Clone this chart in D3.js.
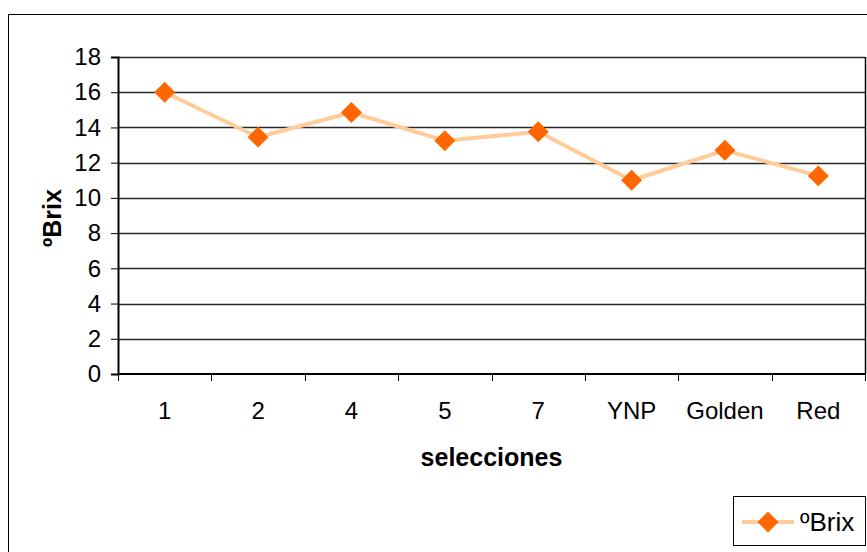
<!DOCTYPE html>
<html>
<head>
<meta charset="utf-8">
<script src="https://cdn.jsdelivr.net/npm/d3@7"></script>
<style>
  html, body { margin: 0; padding: 0; background: #fff; }
  svg { display: block; font-family: "Liberation Sans", Arial, sans-serif; }
</style>
</head>
<body>
<svg id="chart" width="867" height="552"></svg>
<script>
// Sugar content (ºBrix) per selection
const categories = ["1", "2", "4", "5", "7", "YNP", "Golden", "Red"];
const brix = [16.0, 13.45, 14.85, 13.25, 13.75, 11.0, 12.7, 11.25];
const yTicks = [0, 2, 4, 6, 8, 10, 12, 14, 16, 18];
const seriesName = "ºBrix";
const xTitle = "selecciones";
const yTitle = "ºBrix";

const svg = d3.select("#chart");
const plot = { left: 118, top: 57, right: 865, bottom: 374 };

// Outer chart frame
svg.append("rect")
  .attr("x", 8.5).attr("y", 14.5)
  .attr("width", 870).attr("height", 560)
  .attr("fill", "#fff").attr("stroke", "#000").attr("stroke-width", 1);

const x = d3.scaleBand().domain(categories).range([plot.left, plot.right]).padding(0);
const y = d3.scaleLinear().domain([0, 18]).range([plot.bottom, plot.top]);

// Horizontal gridlines
svg.append("g").selectAll("line").data(yTicks.filter(d => d > 0)).join("line")
  .attr("x1", plot.left).attr("x2", plot.right)
  .attr("y1", d => Math.round(y(d)) + 0.5).attr("y2", d => Math.round(y(d)) + 0.5)
  .attr("stroke", "#2a2a2a").attr("stroke-width", 1.4);

// Plot area border (right side)
svg.append("line")
  .attr("x1", plot.right + 0.5).attr("x2", plot.right + 0.5)
  .attr("y1", plot.top).attr("y2", plot.bottom)
  .attr("stroke", "#000").attr("stroke-width", 1.5);

// Y axis
const yAxis = svg.append("g")
  .attr("transform", `translate(${plot.left},0)`)
  .call(d3.axisLeft(y).tickValues(yTicks).tickSize(7).tickPadding(10));
yAxis.select(".domain").attr("stroke", "#000").attr("stroke-width", 2);
yAxis.selectAll(".tick line").attr("stroke", "#000").attr("stroke-width", 1);
yAxis.selectAll("text").attr("font-size", 24).attr("fill", "#000")
  .attr("font-family", "Liberation Sans, Arial, sans-serif");

// X axis with ticks at category boundaries
const xAxisG = svg.append("g").attr("transform", `translate(0,${plot.bottom})`);
xAxisG.append("line")
  .attr("x1", plot.left).attr("x2", plot.right)
  .attr("y1", 0).attr("y2", 0)
  .attr("stroke", "#000").attr("stroke-width", 2);
const boundaries = categories.map(c => x(c)).concat([x(categories[categories.length - 1]) + x.bandwidth()]);
xAxisG.selectAll("line.tk").data(boundaries).join("line").attr("class", "tk")
  .attr("x1", d => Math.round(d) + 0.5).attr("x2", d => Math.round(d) + 0.5)
  .attr("y1", 0).attr("y2", 7)
  .attr("stroke", "#000").attr("stroke-width", 1);
xAxisG.selectAll("text").data(categories).join("text")
  .attr("x", d => x(d) + x.bandwidth() / 2)
  .attr("y", 45)
  .attr("text-anchor", "middle")
  .attr("font-size", 24).attr("fill", "#000")
  .text(d => d);

// Series line
const pts = categories.map((c, i) => [x(c) + x.bandwidth() / 2, y(brix[i])]);
svg.append("path")
  .attr("d", d3.line()(pts))
  .attr("fill", "none").attr("stroke", "#FFCC99").attr("stroke-width", 4)
  .attr("stroke-linejoin", "round");

// Diamond markers
const diamond = d3.symbol().type(d3.symbolSquare).size(220);
svg.append("g").selectAll("path").data(pts).join("path")
  .attr("d", diamond)
  .attr("transform", d => `translate(${d[0]},${d[1]}) rotate(45)`)
  .attr("fill", "#FF6600");

// Axis titles
svg.append("text")
  .attr("x", (plot.left + plot.right) / 2).attr("y", 466)
  .attr("text-anchor", "middle")
  .attr("font-size", 25).attr("font-weight", "bold").attr("fill", "#000")
  .text(xTitle);

svg.append("text")
  .attr("transform", `translate(61,218) rotate(-90)`)
  .attr("text-anchor", "middle")
  .attr("font-size", 25).attr("font-weight", "bold").attr("fill", "#000")
  .text(yTitle);

// Legend
const lg = svg.append("g");
lg.append("rect")
  .attr("x", 733.5).attr("y", 496.5).attr("width", 132).attr("height", 49)
  .attr("fill", "#fff").attr("stroke", "#000").attr("stroke-width", 1);
lg.append("line")
  .attr("x1", 742).attr("x2", 794).attr("y1", 522).attr("y2", 522)
  .attr("stroke", "#FFCC99").attr("stroke-width", 4);
lg.append("path")
  .attr("d", diamond)
  .attr("transform", "translate(768,522) rotate(45)")
  .attr("fill", "#FF6600");
lg.append("text")
  .attr("x", 800).attr("y", 531)
  .attr("font-size", 26).attr("fill", "#000")
  .text(seriesName);
</script>
</body>
</html>
